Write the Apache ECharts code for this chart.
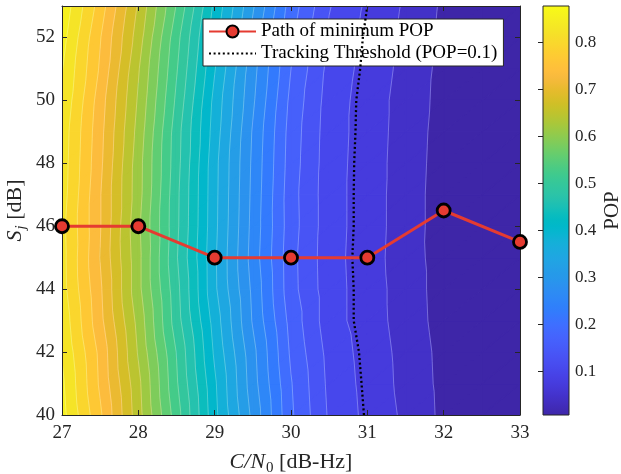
<!DOCTYPE html>
<html>
<head>
<meta charset="utf-8">
<script src="https://cdn.jsdelivr.net/npm/echarts@6/dist/echarts.min.js"></script>
<style>
  html, body { margin: 0; padding: 0; background: #fff; }
  #chart { width: 621px; height: 474px; }
</style>
</head>
<body>
<div id="chart"></div>
<script>
// Grid of POP values: columns follow C/N0, rows follow S_j
const popX = [27, 27.5, 28, 28.5, 29, 29.5, 30, 30.5, 31, 31.5, 32, 32.5, 33];
const popY = [40, 41, 42, 43, 44, 45, 46, 47, 48, 49, 50, 51, 52, 53];
const popRows = [
  [0.866, 0.770, 0.657, 0.539, 0.414, 0.307, 0.200, 0.131, 0.097, 0.069, 0.038, 0.024, 0.012], // 40
  [0.861, 0.760, 0.653, 0.529, 0.410, 0.298, 0.197, 0.128, 0.095, 0.066, 0.037, 0.023, 0.011], // 41
  [0.853, 0.757, 0.642, 0.524, 0.400, 0.294, 0.190, 0.125, 0.093, 0.065, 0.036, 0.022, 0.010], // 42
  [0.846, 0.744, 0.635, 0.509, 0.392, 0.282, 0.184, 0.118, 0.090, 0.062, 0.033, 0.021, 0.009], // 43
  [0.837, 0.740, 0.624, 0.505, 0.381, 0.278, 0.176, 0.118, 0.090, 0.061, 0.032, 0.020, 0.008], // 44
  [0.836, 0.734, 0.624, 0.498, 0.380, 0.272, 0.175, 0.117, 0.089, 0.059, 0.032, 0.019, 0.007], // 45
  [0.834, 0.737, 0.621, 0.502, 0.383, 0.275, 0.178, 0.118, 0.090, 0.060, 0.031, 0.020, 0.008], // 46
  [0.839, 0.737, 0.627, 0.503, 0.384, 0.277, 0.177, 0.118, 0.090, 0.060, 0.031, 0.020, 0.009], // 47
  [0.841, 0.742, 0.628, 0.507, 0.385, 0.279, 0.180, 0.119, 0.090, 0.061, 0.032, 0.020, 0.009], // 48
  [0.843, 0.745, 0.634, 0.509, 0.391, 0.282, 0.182, 0.120, 0.091, 0.062, 0.033, 0.021, 0.009], // 49
  [0.851, 0.750, 0.641, 0.519, 0.396, 0.290, 0.187, 0.122, 0.091, 0.063, 0.035, 0.022, 0.010], // 50
  [0.857, 0.761, 0.648, 0.528, 0.407, 0.296, 0.195, 0.126, 0.094, 0.066, 0.036, 0.023, 0.011], // 51
  [0.867, 0.767, 0.660, 0.536, 0.416, 0.305, 0.201, 0.130, 0.096, 0.068, 0.038, 0.024, 0.012], // 52
  [0.878, 0.781, 0.671, 0.553, 0.428, 0.319, 0.211, 0.137, 0.100, 0.071, 0.040, 0.025, 0.013]  // 53
];

// Filled-contour levels
const contourLevels = [0.045, 0.075, 0.105, 0.135, 0.165, 0.195, 0.225, 0.255, 0.285, 0.315,
  0.345, 0.375, 0.405, 0.435, 0.465, 0.495, 0.525, 0.555, 0.585, 0.615,
  0.645, 0.675, 0.705, 0.735, 0.765, 0.795, 0.825, 0.855];

// Minimum-POP path
const pathCN0 = [27, 28, 29, 30, 31, 32, 33];
const pathSj = [46, 46, 45, 45, 45, 46.5, 45.5];

// Tracking threshold and colorbar ticks
const thresholdPOP = 0.1;
const colorbarTicks = [0.1, 0.2, 0.3, 0.4, 0.5, 0.6, 0.7, 0.8];

// parula colormap (64 entries)
const parula = [
  [0.2422,0.1504,0.6603],[0.2504,0.1650,0.7076],[0.2578,0.1818,0.7511],[0.2647,0.1978,0.7952],
  [0.2706,0.2147,0.8364],[0.2751,0.2342,0.8710],[0.2783,0.2559,0.8991],[0.2803,0.2782,0.9221],
  [0.2813,0.3006,0.9414],[0.2810,0.3228,0.9579],[0.2795,0.3447,0.9717],[0.2760,0.3667,0.9829],
  [0.2699,0.3892,0.9906],[0.2602,0.4123,0.9952],[0.2440,0.4358,0.9988],[0.2206,0.4603,0.9973],
  [0.1963,0.4847,0.9892],[0.1834,0.5074,0.9798],[0.1786,0.5289,0.9682],[0.1764,0.5499,0.9520],
  [0.1687,0.5703,0.9359],[0.1540,0.5902,0.9218],[0.1460,0.6091,0.9079],[0.1380,0.6276,0.8973],
  [0.1248,0.6459,0.8883],[0.1113,0.6635,0.8763],[0.0952,0.6798,0.8598],[0.0689,0.6948,0.8394],
  [0.0297,0.7082,0.8163],[0.0036,0.7203,0.7917],[0.0067,0.7312,0.7660],[0.0433,0.7411,0.7394],
  [0.0964,0.7500,0.7120],[0.1408,0.7584,0.6842],[0.1717,0.7670,0.6554],[0.1938,0.7758,0.6251],
  [0.2161,0.7843,0.5923],[0.2470,0.7918,0.5567],[0.2906,0.7973,0.5188],[0.3406,0.8008,0.4789],
  [0.3909,0.8029,0.4354],[0.4456,0.8024,0.3909],[0.5044,0.7993,0.3480],[0.5616,0.7942,0.3045],
  [0.6174,0.7876,0.2612],[0.6720,0.7793,0.2227],[0.7242,0.7698,0.1910],[0.7738,0.7598,0.1646],
  [0.8203,0.7498,0.1535],[0.8634,0.7406,0.1596],[0.9035,0.7330,0.1774],[0.9393,0.7288,0.2100],
  [0.9728,0.7298,0.2394],[0.9956,0.7434,0.2371],[0.9970,0.7659,0.2199],[0.9952,0.7893,0.2028],
  [0.9892,0.8136,0.1885],[0.9786,0.8386,0.1766],[0.9676,0.8639,0.1643],[0.9610,0.8890,0.1537],
  [0.9597,0.9135,0.1423],[0.9628,0.9373,0.1265],[0.9691,0.9606,0.1064],[0.9769,0.9839,0.0805]
];

const allPop = popRows.flat();
const cMin = Math.min(...allPop);
const cMax = Math.max(...allPop);

function rgbStr(c) {
  return 'rgb(' + c.map(v => Math.round(v * 255)).join(',') + ')';
}
function parulaColor(val) {
  let t = (val - cMin) / (cMax - cMin);
  t = Math.max(0, Math.min(1, t));
  const p = t * (parula.length - 1);
  const i = Math.min(Math.floor(p), parula.length - 2);
  const f = p - i;
  return rgbStr(parula[i].map((v, k) => v + f * (parula[i + 1][k] - v)));
}

// Clip a polygon (points carry x, y and value v) to the side where f(v) >= 0
function clipPoly(poly, f) {
  const out = [];
  for (let k = 0; k < poly.length; k++) {
    const a = poly[k], b = poly[(k + 1) % poly.length];
    const fa = f(a.v), fb = f(b.v);
    if (fa >= 0) out.push(a);
    if ((fa >= 0) !== (fb >= 0)) {
      const t = fa / (fa - fb);
      out.push({ x: a.x + t * (b.x - a.x), y: a.y + t * (b.y - a.y), v: a.v + t * (b.v - a.v) });
    }
  }
  return out;
}

const lineColor = 'rgba(255,255,255,0.4)';

function renderContourCell(params, api) {
  const c = api.value(2), r = api.value(3);
  const corner = (cc, rr) => {
    const p = api.coord([popX[cc], popY[rr]]);
    return { x: p[0], y: p[1], v: popRows[rr][cc] };
  };
  const p00 = corner(c, r), p10 = corner(c + 1, r), p11 = corner(c + 1, r + 1), p01 = corner(c, r + 1);
  const children = [];
  [[p00, p10, p11], [p00, p11, p01]].forEach(tri => {
    const vs = tri.map(p => p.v);
    const vmin = Math.min(...vs), vmax = Math.max(...vs);
    for (let b = 0; b <= contourLevels.length; b++) {
      const lo = b === 0 ? -Infinity : contourLevels[b - 1];
      const hi = b === contourLevels.length ? Infinity : contourLevels[b];
      if (hi < vmin || lo > vmax) continue;
      let poly = tri;
      if (lo > -Infinity) poly = clipPoly(poly, v => v - lo);
      if (poly.length >= 3 && hi < Infinity) poly = clipPoly(poly, v => hi - v);
      if (poly.length < 3) continue;
      const col = parulaColor(b === 0 ? cMin : lo);
      children.push({
        type: 'polygon', z2: 0,
        shape: { points: poly.map(p => [p.x, p.y]) },
        style: { fill: col, stroke: col, lineWidth: 1.2, lineJoin: 'round' }
      });
    }
    contourLevels.forEach(L => {
      const pts = [];
      for (let k = 0; k < 3; k++) {
        const a = tri[k], b = tri[(k + 1) % 3];
        if ((a.v >= L) !== (b.v >= L)) {
          const t = (L - a.v) / (b.v - a.v);
          pts.push([a.x + t * (b.x - a.x), a.y + t * (b.y - a.y)]);
        }
      }
      if (pts.length === 2) {
        children.push({
          type: 'line', z2: 5,
          shape: { x1: pts[0][0], y1: pts[0][1], x2: pts[1][0], y2: pts[1][1] },
          style: { stroke: lineColor, lineWidth: 0.7 }
        });
      }
    });
  });
  return { type: 'group', children };
}

function renderColorbar(params, api) {
  const tl = api.coord([0, cMax]);
  const br = api.coord([1, cMin]);
  const stops = parula.map((c, i) => ({ offset: (parula.length - 1 - i) / (parula.length - 1), color: rgbStr(c) })).reverse();
  return {
    type: 'rect',
    shape: { x: tl[0], y: tl[1], width: br[0] - tl[0], height: br[1] - tl[1] },
    style: { fill: new echarts.graphic.LinearGradient(0, 0, 0, 1, stops), stroke: '#262626', lineWidth: 1 }
  };
}

// 0.1 iso-line, found along each S_j row
const thresholdLine = popY.map((y, r) => {
  const row = popRows[r];
  for (let c = 0; c < row.length - 1; c++) {
    const a = row[c] - thresholdPOP, b = row[c + 1] - thresholdPOP;
    if (a * b <= 0 && row[c] !== row[c + 1]) {
      const t = (thresholdPOP - row[c]) / (row[c + 1] - row[c]);
      return [popX[c] + t * (popX[c + 1] - popX[c]), y];
    }
  }
  return null;
}).filter(Boolean);

const cells = [];
for (let r = 0; r < popY.length - 1; r++) {
  for (let c = 0; c < popX.length - 1; c++) {
    cells.push([popX[c], popY[r], c, r]);
  }
}

const axisColor = '#262626';
const serif = 'Liberation Serif';
const red = '#e53b31';

const baseAxis = {
  type: 'value', z: 10,
  axisLine: { show: true, onZero: false, lineStyle: { color: axisColor, width: 1 } },
  axisTick: { show: true, inside: true, length: 5, lineStyle: { color: axisColor } },
  splitLine: { show: false }
};

const nameRich = (subItalic) => ({
  i: { fontFamily: serif, fontSize: 22, fontStyle: 'italic', color: axisColor, verticalAlign: 'top', lineHeight: 22 },
  s: { fontFamily: serif, fontSize: 15, fontStyle: subItalic ? 'italic' : 'normal', color: axisColor, lineHeight: 15, padding: [10, 0, 0, 1], verticalAlign: 'top' },
  n: { fontFamily: serif, fontSize: 22, color: axisColor, verticalAlign: 'top', lineHeight: 22 }
});

const chart = echarts.init(document.getElementById('chart'), null, { renderer: 'canvas' });
chart.setOption({
  animation: false,
  backgroundColor: '#fff',
  grid: [
    { left: 62, top: 6, width: 458, height: 409, outerBoundsMode: 'none', containLabel: false },
    { left: 543, top: 6, width: 26, height: 409, outerBoundsMode: 'none', containLabel: false }
  ],
  xAxis: [
    Object.assign({}, baseAxis, {
      gridIndex: 0, min: 27, max: 33, interval: 1, position: 'bottom',
      axisLabel: { margin: 9, fontFamily: serif, fontSize: 19, color: axisColor },
      name: '{i|C/N}{s|0}{n| [dB-Hz]}', nameLocation: 'middle', nameGap: 36,
      nameTextStyle: { fontFamily: serif, fontSize: 22, color: axisColor, rich: nameRich(false) }
    }),
    Object.assign({}, baseAxis, {
      gridIndex: 0, min: 27, max: 33, interval: 1, position: 'top',
      axisLabel: { show: false }
    }),
    { gridIndex: 1, type: 'value', min: 0, max: 1, show: false }
  ],
  yAxis: [
    Object.assign({}, baseAxis, {
      gridIndex: 0, min: 40, max: 53, interval: 2, position: 'left',
      axisLabel: { margin: 7, fontFamily: serif, fontSize: 19, color: axisColor, showMaxLabel: false },
      name: '{i|S}{s|j}{n| [dB]}', nameLocation: 'middle', nameGap: 36, nameRotate: 90,
      nameMoveOverlap: false,
      nameTextStyle: { fontFamily: serif, fontSize: 22, color: axisColor, rich: nameRich(true) }
    }),
    Object.assign({}, baseAxis, {
      gridIndex: 0, min: 40, max: 53, interval: 2, position: 'right',
      axisLabel: { show: false }
    }),
    {
      gridIndex: 1, type: 'value', min: cMin, max: cMax, position: 'right', z: 10,
      axisLine: { show: false },
      axisTick: { show: true, inside: true, length: 5, customValues: colorbarTicks, lineStyle: { color: axisColor } },
      axisLabel: { show: true, margin: 6, customValues: colorbarTicks, fontFamily: serif, fontSize: 17, color: axisColor },
      splitLine: { show: false },
      name: 'POP', nameLocation: 'middle', nameGap: 33, nameRotate: 90,
      nameTextStyle: { fontFamily: serif, fontSize: 21, color: axisColor }
    }
  ],
  legend: {
    left: 203, top: 19, orient: 'vertical',
    backgroundColor: '#fff', borderColor: axisColor, borderWidth: 1, borderRadius: 0,
    padding: [3, 6, 3, 5], itemGap: 3, itemWidth: 47, itemHeight: 15,
    textStyle: { fontFamily: serif, fontSize: 19, color: '#000' },
    data: [
      { name: 'Path of minimum POP' },
      { name: 'Tracking Threshold (POP=0.1)', itemStyle: { opacity: 0 } }
    ]
  },
  series: [
    {
      type: 'custom', name: 'POP', xAxisIndex: 0, yAxisIndex: 0, z: 1, silent: true, clip: true,
      renderItem: renderContourCell, encode: { x: 0, y: 1 }, data: cells
    },
    {
      type: 'line', name: 'Tracking Threshold (POP=0.1)', xAxisIndex: 0, yAxisIndex: 0, z: 5,
      symbol: 'none', data: thresholdLine,
      itemStyle: { color: '#000' },
      lineStyle: { color: '#000', width: 2.3, type: [2, 2.6] }
    },
    {
      type: 'line', name: 'Path of minimum POP', xAxisIndex: 0, yAxisIndex: 0, z: 20,
      data: pathCN0.map((x, i) => [x, pathSj[i]]),
      symbol: 'circle', symbolSize: 13,
      itemStyle: { color: red, borderColor: '#000', borderWidth: 2.8 },
      lineStyle: { color: red, width: 3 }
    },
    {
      type: 'custom', name: 'colorbar', xAxisIndex: 2, yAxisIndex: 2, z: 1, silent: true,
      renderItem: renderColorbar, data: [[0, cMin]]
    }
  ]
});
</script>
</body>
</html>
